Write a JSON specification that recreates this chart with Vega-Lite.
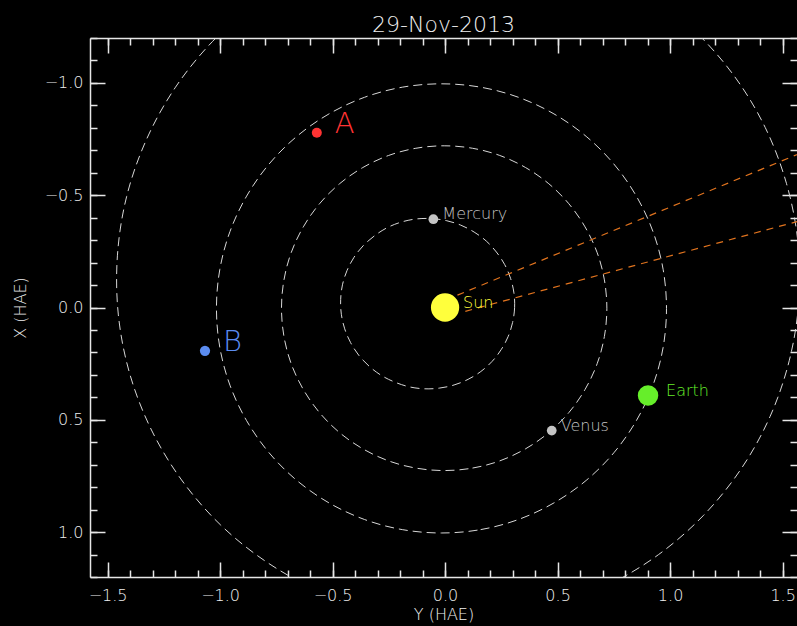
{
  "$schema": "https://vega.github.io/schema/vega-lite/v6.json",
  "autosize": "none",
  "width": 707,
  "height": 539,
  "padding": {"left": 90, "top": 38, "right": 0, "bottom": 49},
  "background": "black",
  "title": {"text": "29-Nov-2013", "color": "#f0f0f0", "font": "DejaVu Sans", "fontSize": 22, "fontWeight": 200, "anchor": "middle", "baseline": "alphabetic", "offset": -17},
  "config": {"view": {"stroke": null}, "axis": {"grid": false}, "text": {"fontWeight": 200}},
  "datasets": {
    "orbits": [
      {"orbit":"Mercury","k":0,"hae_x":0.067,"hae_y":0.300},{"orbit":"Mercury","k":1,"hae_x":0.001,"hae_y":0.309},{"orbit":"Mercury","k":2,"hae_x":-0.065,"hae_y":0.306},{"orbit":"Mercury","k":3,"hae_x":-0.130,"hae_y":0.291},{"orbit":"Mercury","k":4,"hae_x":-0.191,"hae_y":0.265},{"orbit":"Mercury","k":5,"hae_x":-0.247,"hae_y":0.228},{"orbit":"Mercury","k":6,"hae_x":-0.296,"hae_y":0.183},{"orbit":"Mercury","k":7,"hae_x":-0.336,"hae_y":0.129},{"orbit":"Mercury","k":8,"hae_x":-0.367,"hae_y":0.069},{"orbit":"Mercury","k":9,"hae_x":-0.387,"hae_y":0.005},{"orbit":"Mercury","k":10,"hae_x":-0.396,"hae_y":-0.062},{"orbit":"Mercury","k":11,"hae_x":-0.394,"hae_y":-0.130},{"orbit":"Mercury","k":12,"hae_x":-0.380,"hae_y":-0.196},{"orbit":"Mercury","k":13,"hae_x":-0.355,"hae_y":-0.258},{"orbit":"Mercury","k":14,"hae_x":-0.319,"hae_y":-0.314},{"orbit":"Mercury","k":15,"hae_x":-0.275,"hae_y":-0.364},{"orbit":"Mercury","k":16,"hae_x":-0.223,"hae_y":-0.405},{"orbit":"Mercury","k":17,"hae_x":-0.164,"hae_y":-0.436},{"orbit":"Mercury","k":18,"hae_x":-0.101,"hae_y":-0.456},{"orbit":"Mercury","k":19,"hae_x":-0.036,"hae_y":-0.464},{"orbit":"Mercury","k":20,"hae_x":0.030,"hae_y":-0.461},{"orbit":"Mercury","k":21,"hae_x":0.095,"hae_y":-0.446},{"orbit":"Mercury","k":22,"hae_x":0.156,"hae_y":-0.420},{"orbit":"Mercury","k":23,"hae_x":0.212,"hae_y":-0.384},{"orbit":"Mercury","k":24,"hae_x":0.261,"hae_y":-0.338},{"orbit":"Mercury","k":25,"hae_x":0.302,"hae_y":-0.284},{"orbit":"Mercury","k":26,"hae_x":0.332,"hae_y":-0.224},{"orbit":"Mercury","k":27,"hae_x":0.353,"hae_y":-0.160},{"orbit":"Mercury","k":28,"hae_x":0.362,"hae_y":-0.093},{"orbit":"Mercury","k":29,"hae_x":0.359,"hae_y":-0.026},{"orbit":"Mercury","k":30,"hae_x":0.345,"hae_y":0.040},{"orbit":"Mercury","k":31,"hae_x":0.320,"hae_y":0.102},{"orbit":"Mercury","k":32,"hae_x":0.285,"hae_y":0.159},{"orbit":"Mercury","k":33,"hae_x":0.240,"hae_y":0.209},{"orbit":"Mercury","k":34,"hae_x":0.188,"hae_y":0.249},{"orbit":"Mercury","k":35,"hae_x":0.130,"hae_y":0.280},
      {"orbit":"Venus","k":0,"hae_x":0.726,"hae_y":-0.004},{"orbit":"Venus","k":1,"hae_x":0.715,"hae_y":0.122},{"orbit":"Venus","k":2,"hae_x":0.683,"hae_y":0.243},{"orbit":"Venus","k":3,"hae_x":0.629,"hae_y":0.358},{"orbit":"Venus","k":4,"hae_x":0.557,"hae_y":0.461},{"orbit":"Venus","k":5,"hae_x":0.468,"hae_y":0.550},{"orbit":"Venus","k":6,"hae_x":0.365,"hae_y":0.622},{"orbit":"Venus","k":7,"hae_x":0.250,"hae_y":0.676},{"orbit":"Venus","k":8,"hae_x":0.129,"hae_y":0.708},{"orbit":"Venus","k":9,"hae_x":0.003,"hae_y":0.719},{"orbit":"Venus","k":10,"hae_x":-0.123,"hae_y":0.708},{"orbit":"Venus","k":11,"hae_x":-0.244,"hae_y":0.676},{"orbit":"Venus","k":12,"hae_x":-0.359,"hae_y":0.622},{"orbit":"Venus","k":13,"hae_x":-0.462,"hae_y":0.550},{"orbit":"Venus","k":14,"hae_x":-0.551,"hae_y":0.461},{"orbit":"Venus","k":15,"hae_x":-0.623,"hae_y":0.358},{"orbit":"Venus","k":16,"hae_x":-0.677,"hae_y":0.243},{"orbit":"Venus","k":17,"hae_x":-0.709,"hae_y":0.122},{"orbit":"Venus","k":18,"hae_x":-0.720,"hae_y":-0.004},{"orbit":"Venus","k":19,"hae_x":-0.709,"hae_y":-0.130},{"orbit":"Venus","k":20,"hae_x":-0.677,"hae_y":-0.251},{"orbit":"Venus","k":21,"hae_x":-0.623,"hae_y":-0.366},{"orbit":"Venus","k":22,"hae_x":-0.551,"hae_y":-0.469},{"orbit":"Venus","k":23,"hae_x":-0.462,"hae_y":-0.558},{"orbit":"Venus","k":24,"hae_x":-0.359,"hae_y":-0.630},{"orbit":"Venus","k":25,"hae_x":-0.244,"hae_y":-0.684},{"orbit":"Venus","k":26,"hae_x":-0.123,"hae_y":-0.716},{"orbit":"Venus","k":27,"hae_x":0.003,"hae_y":-0.727},{"orbit":"Venus","k":28,"hae_x":0.129,"hae_y":-0.716},{"orbit":"Venus","k":29,"hae_x":0.250,"hae_y":-0.684},{"orbit":"Venus","k":30,"hae_x":0.365,"hae_y":-0.630},{"orbit":"Venus","k":31,"hae_x":0.468,"hae_y":-0.558},{"orbit":"Venus","k":32,"hae_x":0.557,"hae_y":-0.469},{"orbit":"Venus","k":33,"hae_x":0.629,"hae_y":-0.366},{"orbit":"Venus","k":34,"hae_x":0.683,"hae_y":-0.251},{"orbit":"Venus","k":35,"hae_x":0.715,"hae_y":-0.130},
      {"orbit":"Earth","k":0,"hae_x":1.004,"hae_y":-0.016},{"orbit":"Earth","k":1,"hae_x":0.989,"hae_y":0.158},{"orbit":"Earth","k":2,"hae_x":0.944,"hae_y":0.326},{"orbit":"Earth","k":3,"hae_x":0.870,"hae_y":0.484},{"orbit":"Earth","k":4,"hae_x":0.770,"hae_y":0.627},{"orbit":"Earth","k":5,"hae_x":0.647,"hae_y":0.750},{"orbit":"Earth","k":6,"hae_x":0.504,"hae_y":0.850},{"orbit":"Earth","k":7,"hae_x":0.346,"hae_y":0.924},{"orbit":"Earth","k":8,"hae_x":0.178,"hae_y":0.969},{"orbit":"Earth","k":9,"hae_x":0.004,"hae_y":0.984},{"orbit":"Earth","k":10,"hae_x":-0.170,"hae_y":0.969},{"orbit":"Earth","k":11,"hae_x":-0.338,"hae_y":0.924},{"orbit":"Earth","k":12,"hae_x":-0.496,"hae_y":0.850},{"orbit":"Earth","k":13,"hae_x":-0.639,"hae_y":0.750},{"orbit":"Earth","k":14,"hae_x":-0.762,"hae_y":0.627},{"orbit":"Earth","k":15,"hae_x":-0.862,"hae_y":0.484},{"orbit":"Earth","k":16,"hae_x":-0.936,"hae_y":0.326},{"orbit":"Earth","k":17,"hae_x":-0.981,"hae_y":0.158},{"orbit":"Earth","k":18,"hae_x":-0.996,"hae_y":-0.016},{"orbit":"Earth","k":19,"hae_x":-0.981,"hae_y":-0.190},{"orbit":"Earth","k":20,"hae_x":-0.936,"hae_y":-0.358},{"orbit":"Earth","k":21,"hae_x":-0.862,"hae_y":-0.516},{"orbit":"Earth","k":22,"hae_x":-0.762,"hae_y":-0.659},{"orbit":"Earth","k":23,"hae_x":-0.639,"hae_y":-0.782},{"orbit":"Earth","k":24,"hae_x":-0.496,"hae_y":-0.882},{"orbit":"Earth","k":25,"hae_x":-0.338,"hae_y":-0.956},{"orbit":"Earth","k":26,"hae_x":-0.170,"hae_y":-1.001},{"orbit":"Earth","k":27,"hae_x":0.004,"hae_y":-1.016},{"orbit":"Earth","k":28,"hae_x":0.178,"hae_y":-1.001},{"orbit":"Earth","k":29,"hae_x":0.346,"hae_y":-0.956},{"orbit":"Earth","k":30,"hae_x":0.504,"hae_y":-0.882},{"orbit":"Earth","k":31,"hae_x":0.647,"hae_y":-0.782},{"orbit":"Earth","k":32,"hae_x":0.770,"hae_y":-0.659},{"orbit":"Earth","k":33,"hae_x":0.870,"hae_y":-0.516},{"orbit":"Earth","k":34,"hae_x":0.944,"hae_y":-0.358},{"orbit":"Earth","k":35,"hae_x":0.989,"hae_y":-0.190},
      {"orbit":"Mars","k":0,"hae_x":1.262,"hae_y":-0.561},{"orbit":"Mars","k":1,"hae_x":1.348,"hae_y":-0.311},{"orbit":"Mars","k":2,"hae_x":1.389,"hae_y":-0.050},{"orbit":"Mars","k":3,"hae_x":1.384,"hae_y":0.215},{"orbit":"Mars","k":4,"hae_x":1.333,"hae_y":0.475},{"orbit":"Mars","k":5,"hae_x":1.237,"hae_y":0.722},{"orbit":"Mars","k":6,"hae_x":1.100,"hae_y":0.949},{"orbit":"Mars","k":7,"hae_x":0.925,"hae_y":1.149},{"orbit":"Mars","k":8,"hae_x":0.718,"hae_y":1.316},{"orbit":"Mars","k":9,"hae_x":0.486,"hae_y":1.444},{"orbit":"Mars","k":10,"hae_x":0.235,"hae_y":1.530},{"orbit":"Mars","k":11,"hae_x":-0.027,"hae_y":1.572},{"orbit":"Mars","k":12,"hae_x":-0.293,"hae_y":1.568},{"orbit":"Mars","k":13,"hae_x":-0.553,"hae_y":1.517},{"orbit":"Mars","k":14,"hae_x":-0.801,"hae_y":1.423},{"orbit":"Mars","k":15,"hae_x":-1.028,"hae_y":1.287},{"orbit":"Mars","k":16,"hae_x":-1.228,"hae_y":1.113},{"orbit":"Mars","k":17,"hae_x":-1.394,"hae_y":0.908},{"orbit":"Mars","k":18,"hae_x":-1.522,"hae_y":0.677},{"orbit":"Mars","k":19,"hae_x":-1.608,"hae_y":0.427},{"orbit":"Mars","k":20,"hae_x":-1.649,"hae_y":0.165},{"orbit":"Mars","k":21,"hae_x":-1.644,"hae_y":-0.099},{"orbit":"Mars","k":22,"hae_x":-1.593,"hae_y":-0.359},{"orbit":"Mars","k":23,"hae_x":-1.497,"hae_y":-0.606},{"orbit":"Mars","k":24,"hae_x":-1.360,"hae_y":-0.833},{"orbit":"Mars","k":25,"hae_x":-1.185,"hae_y":-1.033},{"orbit":"Mars","k":26,"hae_x":-0.978,"hae_y":-1.200},{"orbit":"Mars","k":27,"hae_x":-0.746,"hae_y":-1.328},{"orbit":"Mars","k":28,"hae_x":-0.495,"hae_y":-1.415},{"orbit":"Mars","k":29,"hae_x":-0.233,"hae_y":-1.456},{"orbit":"Mars","k":30,"hae_x":0.033,"hae_y":-1.452},{"orbit":"Mars","k":31,"hae_x":0.293,"hae_y":-1.402},{"orbit":"Mars","k":32,"hae_x":0.541,"hae_y":-1.307},{"orbit":"Mars","k":33,"hae_x":0.768,"hae_y":-1.171},{"orbit":"Mars","k":34,"hae_x":0.968,"hae_y":-0.998},{"orbit":"Mars","k":35,"hae_x":1.134,"hae_y":-0.792}
    ],
    "tracks": [
      {"track":"upper","k":0,"hae_x":-0.055,"hae_y":0.055},
      {"track":"upper","k":1,"hae_x":-0.700,"hae_y":1.610},
      {"track":"lower","k":0,"hae_x":0.017,"hae_y":0.090},
      {"track":"lower","k":1,"hae_x":-0.395,"hae_y":1.610}
    ],
    "bodies": [
      {"name":"Sun","group":"big","hae_x":0.0,"hae_y":0.0},
      {"name":"Mercury","group":"small","hae_x":-0.393,"hae_y":-0.052},
      {"name":"Venus","group":"small","hae_x":0.548,"hae_y":0.474},
      {"name":"Earth","group":"big","hae_x":0.392,"hae_y":0.902},
      {"name":"A","group":"craft","hae_x":-0.778,"hae_y":-0.570},
      {"name":"B","group":"craft","hae_x":0.193,"hae_y":-1.067}
    ]
  },
  "layer": [
    {
      "data": {"name": "orbits"},
      "mark": {"type": "line", "interpolate": "cardinal-closed", "clip": true, "color": "#d8d8d8", "strokeWidth": 1, "strokeDash": [9, 5]},
      "encoding": {
        "x": {"field": "hae_y", "type": "quantitative", "scale": {"domain": [-1.578, 1.564], "nice": false, "zero": false},
          "axis": {"orient": "bottom", "values": [-1.5, -1, -0.5, 0, 0.5, 1, 1.5], "format": ".1f", "ticks": false, "domain": true, "domainColor": "#e6e6e6", "domainWidth": 1.5, "labelColor": "#f0f0f0", "labelFont": "DejaVu Sans", "labelFontSize": 16, "labelFontWeight": 200, "labelPadding": 10, "labelFlush": false, "title": "Y (HAE)", "titleColor": "#f0f0f0", "titleFont": "DejaVu Sans", "titleFontSize": 16, "titleFontWeight": 200, "titlePadding": 3}},
        "y": {"field": "hae_x", "type": "quantitative", "scale": {"domain": [-1.2, 1.2], "reverse": true, "nice": false, "zero": false},
          "axis": {"orient": "left", "values": [-1, -0.5, 0, 0.5, 1], "format": ".1f", "ticks": false, "domain": true, "domainColor": "#e6e6e6", "domainWidth": 1.5, "labelColor": "#f0f0f0", "labelFont": "DejaVu Sans", "labelFontSize": 16, "labelFontWeight": 200, "labelPadding": 7, "labelFlush": false, "title": "X (HAE)", "titleColor": "#f0f0f0", "titleFont": "DejaVu Sans", "titleFontSize": 16, "titleFontWeight": 200, "titlePadding": 16}},
        "detail": {"field": "orbit"},
        "order": {"field": "k", "type": "quantitative"}
      }
    },
    {
      "data": {"name": "tracks"},
      "mark": {"type": "line", "clip": true, "color": "#e0731e", "strokeWidth": 1.2, "strokeDash": [7, 6]},
      "encoding": {
        "x": {"field": "hae_y", "type": "quantitative",
          "axis": {"orient": "bottom", "values": [-1.5, -1, -0.5, 0, 0.5, 1, 1.5], "labels": false, "domain": false, "ticks": true, "tickSize": -15, "tickColor": "#e6e6e6", "tickWidth": 1.5, "title": null}},
        "y": {"field": "hae_x", "type": "quantitative",
          "axis": {"orient": "left", "values": [-1, -0.5, 0, 0.5, 1], "labels": false, "domain": false, "ticks": true, "tickSize": -15, "tickColor": "#e6e6e6", "tickWidth": 1.5, "title": null}},
        "detail": {"field": "track"},
        "order": {"field": "k", "type": "quantitative"}
      }
    },
    {
      "data": {"name": "bodies"},
      "mark": {"type": "circle", "opacity": 1},
      "encoding": {
        "x": {"field": "hae_y", "type": "quantitative",
          "axis": {"orient": "bottom", "values": [-1.5, -1.4, -1.3, -1.2, -1.1, -1, -0.9, -0.8, -0.7, -0.6, -0.5, -0.4, -0.3, -0.2, -0.1, 0, 0.1, 0.2, 0.3, 0.4, 0.5, 0.6, 0.7, 0.8, 0.9, 1, 1.1, 1.2, 1.3, 1.4, 1.5], "labels": false, "domain": false, "ticks": true, "tickSize": -7, "tickColor": "#e6e6e6", "tickWidth": 1.5, "title": null}},
        "y": {"field": "hae_x", "type": "quantitative",
          "axis": {"orient": "left", "values": [-1.2, -1.1, -1, -0.9, -0.8, -0.7, -0.6, -0.5, -0.4, -0.3, -0.2, -0.1, 0, 0.1, 0.2, 0.3, 0.4, 0.5, 0.6, 0.7, 0.8, 0.9, 1, 1.1, 1.2], "labels": false, "domain": false, "ticks": true, "tickSize": -7, "tickColor": "#e6e6e6", "tickWidth": 1.5, "title": null}},
        "color": {"field": "name", "type": "nominal", "legend": null,
          "scale": {"domain": ["Sun", "Mercury", "Venus", "Earth", "A", "B"], "range": ["#ffff3c", "#c4c4c4", "#c4c4c4", "#66ee2a", "#ff3333", "#5b8cf0"]}},
        "size": {"field": "name", "type": "nominal", "legend": null,
          "scale": {"type": "ordinal", "domain": ["Sun", "Mercury", "Venus", "Earth", "A", "B"], "range": [800, 95, 95, 420, 100, 105]}}
      }
    },
    {
      "data": {"name": "bodies"},
      "transform": [{"filter": "datum.group === 'big'"}],
      "mark": {"type": "text", "align": "left", "baseline": "alphabetic", "dx": 18, "font": "DejaVu Sans", "fontSize": 16},
      "encoding": {
        "x": {"field": "hae_y", "type": "quantitative",
          "axis": {"orient": "top", "values": [-1.5, -1, -0.5, 0, 0.5, 1, 1.5], "labels": false, "domain": true, "domainColor": "#e6e6e6", "domainWidth": 1.5, "ticks": true, "tickSize": -15, "tickColor": "#e6e6e6", "tickWidth": 1.5, "title": null}},
        "y": {"field": "hae_x", "type": "quantitative",
          "axis": {"orient": "right", "values": [-1, -0.5, 0, 0.5, 1], "labels": false, "domain": false, "ticks": true, "tickSize": -15, "tickColor": "#e6e6e6", "tickWidth": 1.5, "title": null}},
        "text": {"field": "name"},
        "color": {"field": "name", "type": "nominal", "legend": null}
      }
    },
    {
      "data": {"name": "bodies"},
      "transform": [{"filter": "datum.group === 'small'"}],
      "mark": {"type": "text", "align": "left", "baseline": "alphabetic", "dx": 9, "font": "DejaVu Sans", "fontSize": 16},
      "encoding": {
        "x": {"field": "hae_y", "type": "quantitative",
          "axis": {"orient": "top", "values": [-1.5, -1.4, -1.3, -1.2, -1.1, -1, -0.9, -0.8, -0.7, -0.6, -0.5, -0.4, -0.3, -0.2, -0.1, 0, 0.1, 0.2, 0.3, 0.4, 0.5, 0.6, 0.7, 0.8, 0.9, 1, 1.1, 1.2, 1.3, 1.4, 1.5], "labels": false, "domain": false, "ticks": true, "tickSize": -7, "tickColor": "#e6e6e6", "tickWidth": 1.5, "title": null}},
        "y": {"field": "hae_x", "type": "quantitative",
          "axis": {"orient": "right", "values": [-1.2, -1.1, -1, -0.9, -0.8, -0.7, -0.6, -0.5, -0.4, -0.3, -0.2, -0.1, 0, 0.1, 0.2, 0.3, 0.4, 0.5, 0.6, 0.7, 0.8, 0.9, 1, 1.1, 1.2], "labels": false, "domain": false, "ticks": true, "tickSize": -7, "tickColor": "#e6e6e6", "tickWidth": 1.5, "title": null}},
        "text": {"field": "name"},
        "color": {"field": "name", "type": "nominal", "legend": null}
      }
    },
    {
      "data": {"name": "bodies"},
      "transform": [{"filter": "datum.group === 'craft'"}],
      "mark": {"type": "text", "align": "left", "baseline": "alphabetic", "dx": 18, "font": "DejaVu Sans", "fontSize": 29},
      "encoding": {
        "x": {"field": "hae_y", "type": "quantitative", "axis": null},
        "y": {"field": "hae_x", "type": "quantitative", "axis": null},
        "text": {"field": "name"},
        "color": {"field": "name", "type": "nominal", "legend": null}
      }
    }
  ],
  "resolve": {"axis": {"x": "independent", "y": "independent"}}
}
